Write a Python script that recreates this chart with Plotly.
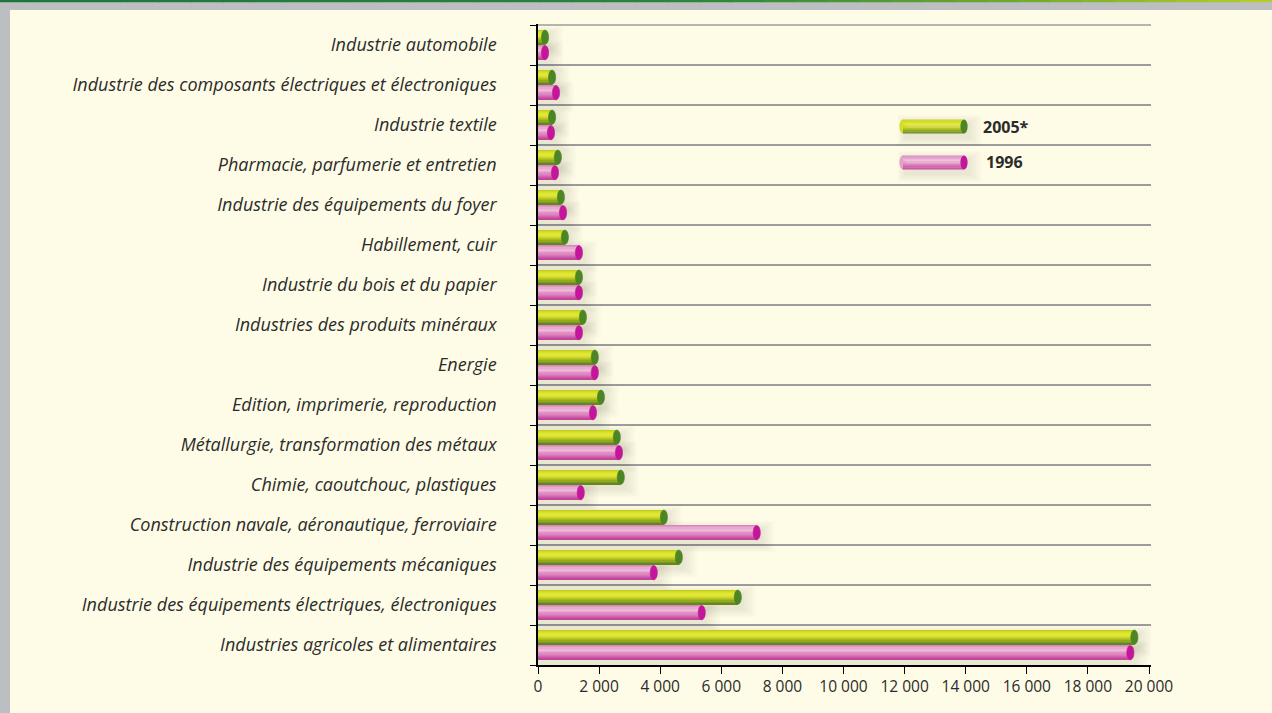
import numpy as np
import plotly.graph_objects as go

# ---------------- data ----------------
CATEGORIES = [
    "Industrie automobile",
    "Industrie des composants électriques et électroniques",
    "Industrie textile",
    "Pharmacie, parfumerie et entretien",
    "Industrie des équipements du foyer",
    "Habillement, cuir",
    "Industrie du bois et du papier",
    "Industries des produits minéraux",
    "Energie",
    "Edition, imprimerie, reproduction",
    "Métallurgie, transformation des métaux",
    "Chimie, caoutchouc, plastiques",
    "Construction navale, aéronautique, ferroviaire",
    "Industrie des équipements mécaniques",
    "Industrie des équipements électriques, électroniques",
    "Industries agricoles et alimentaires",
]
VALUES_2005 = [230, 460, 460, 650, 750, 880, 1340, 1470, 1860, 2060, 2580, 2710, 4120, 4610, 6540, 19520]
VALUES_1996 = [230, 590, 425, 555, 820, 1340, 1340, 1340, 1860, 1800, 2650, 1400, 7160, 3790, 5360, 19390]
SERIES_NAMES = ["2005*", "1996"]
X_TICKS = [0, 2000, 4000, 6000, 8000, 10000, 12000, 14000, 16000, 18000, 20000]

# ---------------- layout geometry (pixels) ----------------
W_FIG, H_FIG = 1272, 713
L, R, T, B = 538, 1151, 24, 665
n = len(CATEGORIES)
ROW_PX = 40.0
XMAX = 20000 * (R - L) / 611.0
UPX = XMAX / (R - L)          # data units per pixel
Y_TOP = -0.5 - (B - T - n * ROW_PX) / ROW_PX
idx = np.arange(n)

BG = "#FEFCE6"
FONT = "Open Sans"
GRID = "#9C9C9C"
FRAME = "#BDBEC1"


def px_x(x):
    return (x - L) / (R - L)


def px_y(y):
    return (B - y) / (B - T)


def hex2rgb(h):
    h = h.lstrip("#")
    return [int(h[i:i + 2], 16) for i in (0, 2, 4)]


def interp(stops, t):
    for (t0, c0), (t1, c1) in zip(stops[:-1], stops[1:]):
        if t0 <= t <= t1:
            a = (t - t0) / (t1 - t0) if t1 > t0 else 0
            r0, r1 = hex2rgb(c0), hex2rgb(c1)
            c = [round(r0[k] + (r1[k] - r0[k]) * a) for k in range(3)]
            return "rgb(%d,%d,%d)" % tuple(c)
    return stops[-1][1]


GREEN_STOPS = [(0.0, "#B9C81E"), (0.15, "#D4DE1E"), (0.35, "#E3E93C"), (0.55, "#CCD622"),
               (0.75, "#9DB321"), (0.9, "#739322"), (1.0, "#5C7F1F")]
PINK_STOPS = [(0.0, "#D27CB6"), (0.18, "#E6A4CE"), (0.35, "#EFC0DC"), (0.55, "#E294C6"),
              (0.8, "#D264AE"), (1.0, "#BF3E98")]
GREEN_CAP = "#4C8624"
PINK_CAP = "#C4169A"

SERIES = [
    dict(name=SERIES_NAMES[0], values=VALUES_2005, off=-0.375, stops=GREEN_STOPS, cap=GREEN_CAP),
    dict(name=SERIES_NAMES[1], values=VALUES_1996, off=0.012, stops=PINK_STOPS, cap=PINK_CAP),
]
BAR_W = 0.36
NB = 12
SHADOW = [(s, 0.015) for s in range(14, 0, -2)]

fig = go.Figure()
shapes = []

# cream page panel over grey paper (leaves grey left strip and top band)
shapes.append(dict(type="rect", xref="paper", yref="paper",
                   x0=px_x(10), x1=px_x(W_FIG + 5), y0=px_y(H_FIG + 5), y1=px_y(10),
                   fillcolor=BG, line=dict(width=0), layer="below"))

# top boundary gridline
shapes.append(dict(type="line", xref="paper", yref="y", x0=0, x1=1, y0=-0.5, y1=-0.5,
                   line=dict(color=GRID, width=1.5), layer="below"))

# soft drop shadows
for s in SERIES:
    v = np.array(s["values"], dtype=float)
    for spread, alpha in SHADOW:
        fig.add_trace(go.Bar(
            x=v + (4 + spread) * UPX, y=idx, orientation="h",
            offset=s["off"] + (4 - spread * 0.6) / ROW_PX,
            width=BAR_W + 1.2 * spread / ROW_PX,
            marker=dict(color="rgba(70,70,40,%.3f)" % alpha, line=dict(width=0)),
            showlegend=False, hoverinfo="skip"))

# cylinder bodies (stacked colour bands)
for s in SERIES:
    for k in range(NB):
        f0, f1 = k / NB, (k + 1) / NB
        fig.add_trace(go.Bar(
            x=s["values"], y=idx, orientation="h",
            offset=s["off"] + f0 * BAR_W,
            width=(f1 - f0) * BAR_W + 0.003,
            marker=dict(color=interp(s["stops"], (f0 + f1) / 2), line=dict(width=0)),
            name=s["name"], showlegend=False,
            hovertemplate="%{x}<extra>" + s["name"] + "</extra>"))

# end caps
HW = 3.6 * UPX
for s in SERIES:
    for i, v in zip(idx, s["values"]):
        shapes.append(dict(type="circle", xref="x", yref="y",
                           x0=v - HW, x1=v + HW,
                           y0=i + s["off"], y1=i + s["off"] + BAR_W,
                           fillcolor=s["cap"], line=dict(width=0.6, color=s["cap"]), layer="above"))

# top green stripe
TOP_STOPS = [(0.0, "#1C773D"), (0.55, "#2A8638"), (0.8, "#6FAA30"), (1.0, "#B8CF2A")]
NSEG = 40
for k in range(NSEG):
    a0, a1 = k / NSEG, (k + 1) / NSEG
    shapes.append(dict(type="rect", xref="paper", yref="paper",
                       x0=px_x(a0 * W_FIG), x1=px_x(a1 * W_FIG + 1), y0=px_y(2.2), y1=px_y(-2),
                       fillcolor=interp(TOP_STOPS, (a0 + a1) / 2), line=dict(width=0), layer="above"))

# custom legend
LEG_X0, LEG_X1 = 903, 964
LEG_Y = [119.5, 155.5]
LEG_H = 14
annotations = []
for s, ly, tx in zip(SERIES, LEG_Y, [981, 984]):
    for spread, alpha in SHADOW:
        shapes.append(dict(type="rect", xref="paper", yref="paper",
                           x0=px_x(LEG_X0 - spread * 0.6 + 3), x1=px_x(LEG_X1 + spread + 4),
                           y0=px_y(ly + LEG_H + spread * 0.6 + 4), y1=px_y(ly - spread * 0.6 + 4),
                           fillcolor="rgba(70,70,40,%.3f)" % alpha, line=dict(width=0)))
    shapes.append(dict(type="circle", xref="paper", yref="paper",
                       x0=px_x(LEG_X0 - 3.6), x1=px_x(LEG_X0 + 3.6),
                       y0=px_y(ly + LEG_H), y1=px_y(ly),
                       fillcolor=interp(s["stops"], 0.5), line=dict(width=0)))
    for k in range(NB):
        f0, f1 = k / NB, (k + 1) / NB
        shapes.append(dict(type="rect", xref="paper", yref="paper",
                           x0=px_x(LEG_X0), x1=px_x(LEG_X1),
                           y0=px_y(ly + f1 * LEG_H + 0.1), y1=px_y(ly + f0 * LEG_H),
                           fillcolor=interp(s["stops"], (f0 + f1) / 2), line=dict(width=0)))
    shapes.append(dict(type="circle", xref="paper", yref="paper",
                       x0=px_x(LEG_X1 - 3.6), x1=px_x(LEG_X1 + 3.6),
                       y0=px_y(ly + LEG_H), y1=px_y(ly),
                       fillcolor=s["cap"], line=dict(width=0)))
    annotations.append(dict(xref="paper", yref="paper", x=px_x(tx), y=px_y(ly + LEG_H / 2),
                            text="<b>%s</b>" % s["name"], showarrow=False,
                            xanchor="left", yanchor="middle",
                            font=dict(family=FONT, size=16, color="#2B2B2B")))

fig.update_layout(
    width=W_FIG, height=H_FIG, autosize=False,
    margin=dict(l=L, r=W_FIG - R, t=T, b=H_FIG - B, pad=0),
    paper_bgcolor=FRAME, plot_bgcolor=BG,
    barmode="overlay",
    separators=", ",
    shapes=shapes, annotations=annotations,
    showlegend=False,
    font=dict(family=FONT, color="#2B2B2B"),
    xaxis=dict(range=[0, XMAX], tickmode="array", tickvals=X_TICKS, tickformat=",d",
               ticks="outside", ticklen=7, tickwidth=1.2, tickcolor="black",
               showline=True, linecolor="black", linewidth=1.5,
               showgrid=False, zeroline=False,
               tickfont=dict(family=FONT, size=15.5, color="#2B2B2B")),
    yaxis=dict(range=[n - 0.5, Y_TOP], tickmode="array", tickvals=idx, ticktext=CATEGORIES,
               ticks="", showgrid=False, zeroline=False,
               showline=True, linecolor="black", linewidth=1.5,
               ticklabelstandoff=36,
               tickfont=dict(family=FONT, size=18, color="#2B2B2B", style="italic"),
               minor=dict(tickmode="array", tickvals=list(idx - 0.5) + [n - 0.5],
                          ticks="outside", ticklen=6, tickwidth=1.2, tickcolor="black",
                          showgrid=True, gridcolor=GRID, gridwidth=1.5)),
)

fig.write_html("out.html", config={"displayModeBar": False},
               post_script="document.body.style.margin='0px';document.body.style.background='%s';" % FRAME)
